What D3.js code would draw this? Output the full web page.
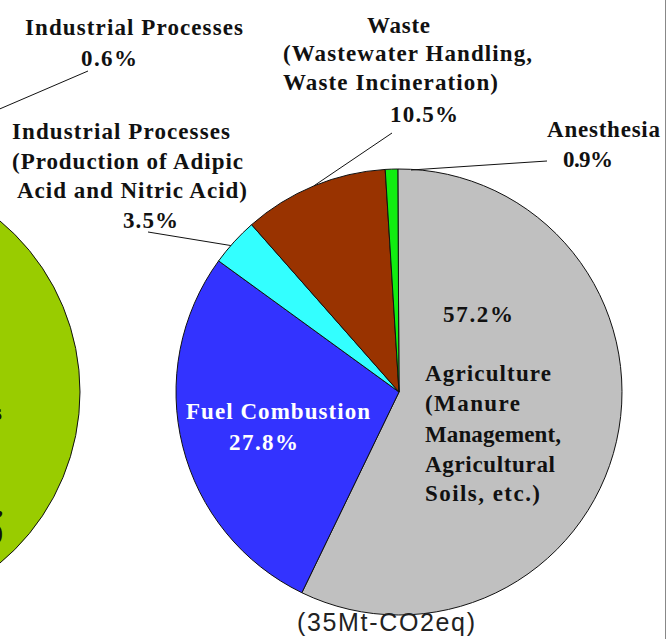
<!DOCTYPE html>
<html><head><meta charset="utf-8">
<script src="https://cdn.jsdelivr.net/npm/d3@7/dist/d3.min.js"></script>
<style>html,body{margin:0;padding:0;background:#fff;overflow:hidden}</style>
</head><body>
<svg id="c" width="667" height="639"></svg>
<script>
// ---- data ----
const categories = ["Agriculture", "Fuel Combustion", "Industrial Processes (Adipic/Nitric Acid)", "Waste", "Anesthesia"];
const values = [57.2, 27.8, 3.5, 10.5, 0.9];
const sliceColors = ["#C0C0C0", "#3333FF", "#33FFFF", "#993300", "#11EE11"];
const otherValue = 0.6;   // Industrial Processes share of the neighbouring (cropped) pie
const totalLabel = "(35Mt-CO2eq)";

// ---- layout ----
const W = 667, H = 639;
const cx = 399, cy = 392, R = 223;
const startAngle = -0.3 * Math.PI / 180;
const leftCx = -143, leftCy = 392;

const svg = d3.select("#c");
const fmt = d3.format(".1f");
const serif = "'Liberation Serif','Times New Roman',serif";

// neighbouring pie (cropped at left)
const arcFull = d3.arc().innerRadius(0).outerRadius(R);
svg.append("path")
  .attr("transform", `translate(${leftCx},${leftCy})`)
  .attr("d", arcFull({startAngle: 0, endAngle: 2 * Math.PI}))
  .attr("fill", "#99CC00").attr("stroke", "#111").attr("stroke-width", 1);

// fragments of the neighbouring pie's label, cut off at the left edge
[["Emissions", 420, 2], ["Landfills,", 514, 3], ["etc.)", 540, 3]].forEach(([t, y, x]) => {
  svg.append("text").attr("x", x).attr("y", y).attr("text-anchor", "end")
    .attr("font-family", serif).attr("font-weight", "bold").attr("font-size", 23)
    .attr("fill", "#111").text(t);
});

// main pie
const pie = d3.pie().sort(null).value(d => d)
  .startAngle(startAngle).endAngle(startAngle + 2 * Math.PI);
const arcs = pie(values);
const g = svg.append("g").attr("transform", `translate(${cx},${cy})`);
g.selectAll("path.slice").data(arcs).join("path")
  .attr("class", "slice")
  .attr("d", arcFull)
  .attr("fill", (d, i) => sliceColors[i])
  .attr("stroke", "#111").attr("stroke-width", 1).attr("stroke-linejoin", "round");

const rimArc = d3.arc().innerRadius(R).outerRadius(R);
function rimPoint(i, frac = 0.5) {
  const a = arcs[i].startAngle + (arcs[i].endAngle - arcs[i].startAngle) * frac;
  return [cx + R * Math.sin(a), cy - R * Math.cos(a)];
}

// leader lines
function leader(from, to) {
  svg.append("line").attr("x1", from[0]).attr("y1", from[1])
    .attr("x2", to[0]).attr("y2", to[1])
    .attr("stroke", "#111").attr("stroke-width", 1);
}
leader([148, 232], rimPoint(2, 0.4));
leader([392, 133], rimPoint(3));
leader([547, 161], [cx + 12, cy - R + 1]);
// leader to the neighbouring pie's small slice (top of that pie)
leader([88, 71], [leftCx + 3, leftCy - R]);

function label(t, x, y, w, opts = {}) {
  const el = svg.append("text").attr("x", x).attr("y", y)
    .attr("font-family", opts.family || serif)
    .attr("font-weight", opts.weight || "bold")
    .attr("font-size", opts.size || 23)
    .attr("fill", opts.color || "#111")
    .text(t);
  if (w) el.attr("textLength", w).attr("lengthAdjust", "spacing");
  return el;
}
const pct = v => fmt(v) + "%";

label("Industrial Processes", 25, 35, 218);
label(pct(otherValue), 81, 66, 56);

label("Industrial Processes", 12, 139, 218);
label("(Production of Adipic", 12, 169, 231);
label("Acid and Nitric Acid)", 17, 198, 230);
label(pct(values[2]), 123, 228, 55);

label("Waste", 367, 33, 63);
label("(Wastewater Handling,", 283, 61, 249);
label("Waste Incineration)", 283, 90, 215);
label(pct(values[3]), 390, 122, 68);

label("Anesthesia", 547, 137, 113);
label(pct(values[4]), 563, 167, 50);

label(pct(values[0]), 443, 322, 70);
label("Agriculture", 425, 381, 126);
label("(Manure", 425, 411, 95);
label("Management,", 425, 442, 136);
label("Agricultural", 425, 472, 130);
label("Soils, etc.)", 425, 501, 115);

label("Fuel Combustion", 186, 419, 184, {color: "#fff"});
label(pct(values[1]), 229, 450, 69, {color: "#fff"});

label(totalLabel, 297, 631, 178, {family: "'Liberation Sans',Arial,sans-serif", weight: "normal", size: 25, color: "#222"});

// right frame edge
svg.append("line").attr("x1", 665.5).attr("x2", 665.5).attr("y1", 0).attr("y2", H)
  .attr("stroke", "#888").attr("stroke-width", 1);
</script>
</body></html>
